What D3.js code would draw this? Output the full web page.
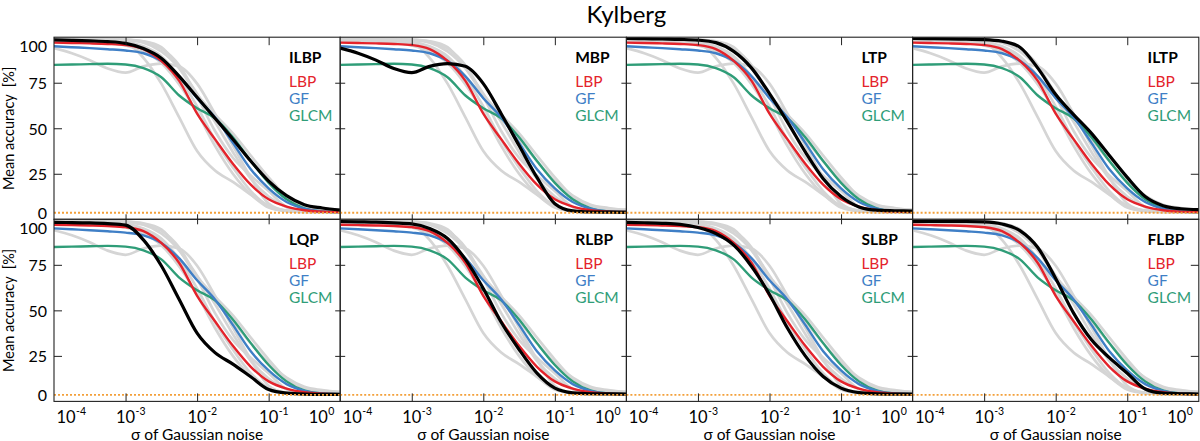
<!DOCTYPE html>
<html><head><meta charset="utf-8">
<script src="https://cdn.jsdelivr.net/npm/d3@7"></script>
<style>
body{margin:0;background:#fff}
svg{display:block}
text{font-family:Lato,"Open Sans",sans-serif;fill:#000}
</style>
</head><body>
<svg id="c" width="1200" height="441"></svg>
<script>
// ---- data ----
const sigmaExp = [-4,-3.75,-3.5,-3.25,-3,-2.75,-2.5,-2.25,-2,-1.75,-1.5,-1.25,-1,-0.75,-0.5,-0.25,0];
const LBP  = [97,96.8,96.6,96.3,95.7,93.5,87,76,58,44,30.5,19,11,7,5,4.2,4];
const GF   = [95,94.5,94,93.4,92.7,91.2,87,78.5,66.5,56,42,27.5,17,9.5,5.8,4.3,4];
const GLCM = [84.8,85,85.2,85.4,85,83,78,68,61,55.5,45,32,20,11,6,4.3,4];
const ILBP = [98.5,98.3,98,97.6,96.6,93.8,88.5,78.5,67,55.5,44,32,21,13,8,6.2,5];
const MBP  = [94,91.2,87.4,82.8,80.5,84,85.5,84,74.5,58,40.5,23,8.6,4.6,4,3.9,3.8];
const LTP  = [99.3,99.2,99,98.8,98.4,97,92.2,83,69,53.5,37,22.3,12.5,6.8,5,4.7,4.5];
const ILTP = [99.3,99.2,99.1,98.9,98.7,97.8,94.5,83,68.5,57.5,47.2,35,23,12.5,7.5,5.8,5.3];
const LQP  = [98.3,98.2,98,97.6,96.8,88.7,74.5,56,37.5,26.8,20.5,13.5,6.5,4.5,4,3.9,3.9];
const RLBP = [98.8,98.6,98.4,98,97.5,95,89.5,78,62,43.5,28.5,15.5,7.3,4.7,4.2,4.1,4];
const SLBP = [98.3,98.1,97.8,97.2,95.5,92.2,85.8,74.1,58.7,40.3,25,13.7,7.3,4.8,4.1,4,4];
const FLBP = [98.8,98.8,98.8,98.8,98.6,97.4,93.8,84.5,67.5,48.5,33.8,24,15.5,6.8,4.5,4.2,4];
const methods = ["ILBP","MBP","LTP","ILTP","LQP","RLBP","SLBP","FLBP"];
const refNames = ["LBP","GF","GLCM"];
const yTicks = [0,25,50,75,100];
const xTickExp = [-4,-3,-2,-1,0];
const chanceLevel = 3.6;
const title = "Kylberg";
const xLabel = "σ of Gaussian noise";
const yLabel = "Mean accuracy\u00a0\u00a0[%]";

// ---- styles / layout ----
const series = {ILBP,MBP,LTP,ILTP,LQP,RLBP,SLBP,FLBP};
const refSeries = {LBP,GF,GLCM};
const refColor = {LBP:"#e4232b", GF:"#3f7fc6", GLCM:"#2f9d78"};
const L0 = 54, PW = 286.2, T0 = 37.2, PH = 182.1;

const svg = d3.select("#c");
const defs = svg.append("defs");

svg.append("text").attr("x", L0 + 2*PW).attr("y", 23)
  .attr("text-anchor","middle").style("font-size","24px").text(title);

methods.forEach((name, i) => {
  const col = i % 4, row = Math.floor(i / 4);
  const x0 = L0 + col*PW, y0 = T0 + row*PH;
  const x = d3.scaleLog().domain([1e-4, 1]).range([x0, x0 + PW]);
  const y = d3.scaleLinear().domain([0, 100]).range([y0 + PH, y0]);
  const line = d3.line()
    .x((d, j) => x(Math.pow(10, sigmaExp[j])))
    .y(d => y(d))
    .curve(d3.curveMonotoneX);

  defs.append("clipPath").attr("id", "clip" + i)
    .append("rect").attr("x", x0).attr("y", y0).attr("width", PW).attr("height", PH);
  const g = svg.append("g").attr("clip-path", `url(#clip${i})`);

  methods.filter(m => m !== name).forEach(m => {
    g.append("path").attr("d", line(series[m])).attr("fill","none")
      .attr("stroke","#d5d5d5").attr("stroke-width",2.7);
  });
  ["GLCM","GF","LBP"].forEach(r => {
    g.append("path").attr("d", line(refSeries[r])).attr("fill","none")
      .attr("stroke", refColor[r]).attr("stroke-width",2.4);
  });
  g.append("path").attr("d", line(series[name])).attr("fill","none")
    .attr("stroke","#000").attr("stroke-width",3.2);
  g.append("line").attr("x1", x0).attr("x2", x0 + PW)
    .attr("y1", y(chanceLevel)).attr("y2", y(chanceLevel))
    .attr("stroke","#f3a03a").attr("stroke-width",1.8).attr("stroke-dasharray","2,2");

  // ticks via axes (inward)
  const outer = 8, inner = 5;
  const xt = xTickExp.slice(1, -1).map(e => Math.pow(10, e));
  const yt = yTicks.slice(1, -1);
  const mk = (sel) => sel.call(s => s.select(".domain").remove())
    .selectAll("line").attr("stroke","#222");
  mk(svg.append("g").attr("transform",`translate(0,${y0+PH})`)
    .call(d3.axisBottom(x).tickValues(xt).tickSize(-(row === 1 ? outer : inner)).tickFormat("")));
  mk(svg.append("g").attr("transform",`translate(0,${y0})`)
    .call(d3.axisTop(x).tickValues(xt).tickSize(-(row === 0 ? outer : inner)).tickFormat("")));
  mk(svg.append("g").attr("transform",`translate(${x0},0)`)
    .call(d3.axisLeft(y).tickValues(yt).tickSize(-(col === 0 ? outer : inner)).tickFormat("")));
  mk(svg.append("g").attr("transform",`translate(${x0+PW},0)`)
    .call(d3.axisRight(y).tickValues(yt).tickSize(-(col === 3 ? outer : inner)).tickFormat("")));

  svg.append("rect").attr("x", x0).attr("y", y0).attr("width", PW).attr("height", PH)
    .attr("fill","none").attr("stroke","#222").attr("stroke-width",1.1);

  // legend
  const lx = x0 + 235;
  svg.append("text").attr("x", lx).attr("y", y0 + 19.5).attr("dominant-baseline","central")
    .style("font-size","15.5px").style("font-weight","bold").text(name);
  refNames.forEach((r, k) => {
    svg.append("text").attr("x", lx).attr("y", y0 + 44 + k*17).attr("dominant-baseline","central")
      .style("font-size","15.5px").style("fill", refColor[r]).text(r);
  });

  // y tick labels
  if (col === 0) {
    yTicks.forEach(v => {
      const sh = v === 100 ? 8.3 : (v === 0 ? -7.3 : 0);
      svg.append("text").attr("x", x0 - 7).attr("y", y(v) + sh)
        .attr("text-anchor","end").attr("dominant-baseline","central")
        .style("font-size","16px").text(v);
    });
    svg.append("text")
      .attr("transform", `translate(14,${y0 + PH/2}) rotate(-90)`)
      .attr("text-anchor","middle").style("font-size","14.5px").text(yLabel);
  }
  // x tick labels
  if (row === 1) {
    xTickExp.forEach((e, k) => {
      const sh = k === 0 ? 12 : (k === xTickExp.length - 1 ? -22 : 0);
      const cx = x(Math.pow(10, e)) + sh;
      const base = svg.append("text").attr("x", cx).attr("y", 422.5)
        .attr("text-anchor","middle").style("font-size","16.5px").text("10");
      const w = base.node().getComputedTextLength();
      svg.append("text").attr("x", cx + w/2 + 0.5).attr("y", 415)
        .style("font-size","10.5px").text(e === 0 ? "0" : "-" + Math.abs(e));
    });
    svg.append("text").attr("x", x0 + PW/2).attr("y", 439.5)
      .attr("text-anchor","middle").style("font-size","15.5px").text(xLabel);
  }
});
</script>
</body></html>
